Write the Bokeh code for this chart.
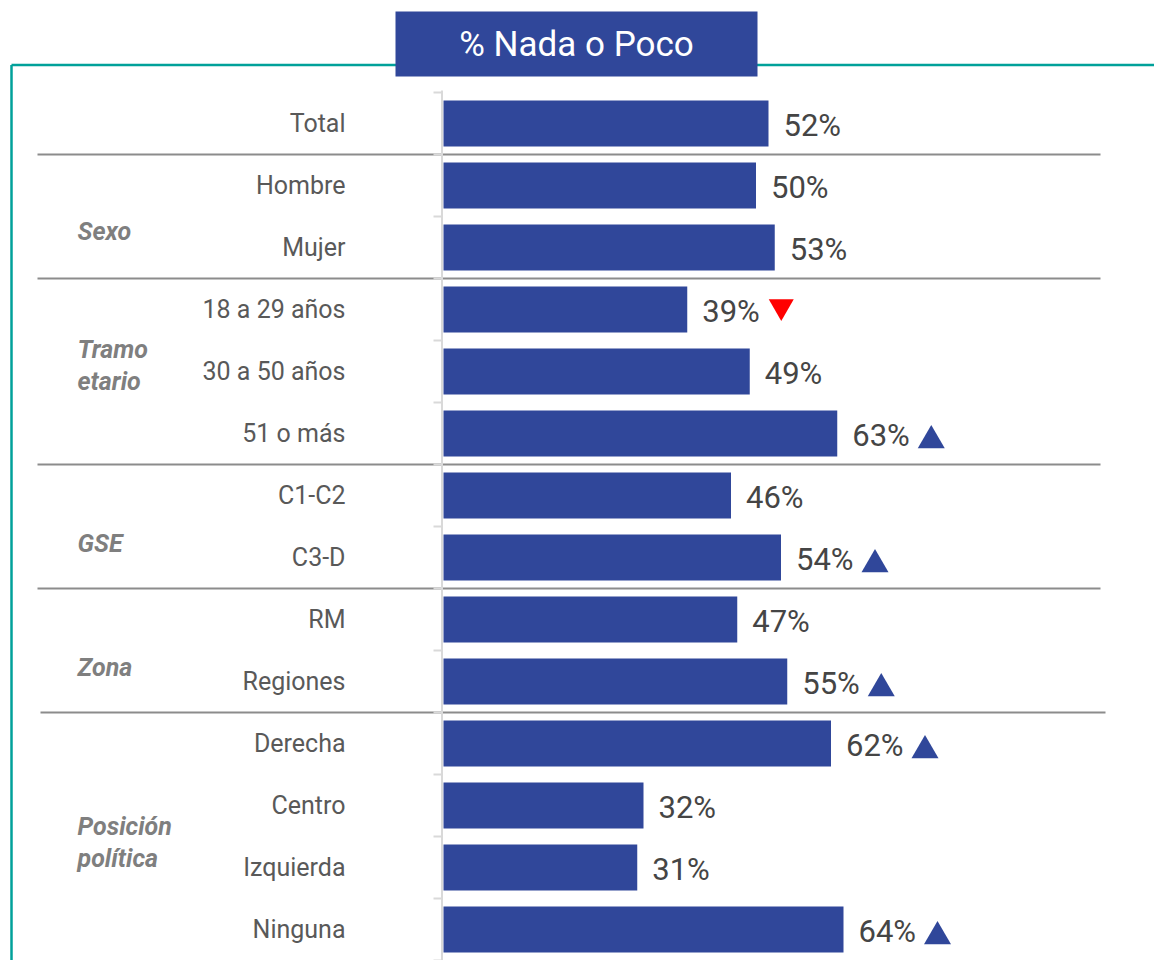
from bokeh.plotting import figure
from bokeh.models import Range1d, ColumnDataSource
from bokeh.core.properties import value
from bokeh.embed import file_html
from bokeh.resources import INLINE

# ---------------- data ----------------
categories = ["Total", "Hombre", "Mujer", "18 a 29 años", "30 a 50 años", "51 o más",
              "C1-C2", "C3-D", "RM", "Regiones", "Derecha", "Centro", "Izquierda", "Ninguna"]
values = [52, 50, 53, 39, 49, 63, 46, 54, 47, 55, 62, 32, 31, 64]
# significance marks: "up", "down" or ""
signif = ["", "", "", "down", "", "up", "", "up", "", "up", "up", "", "", "up"]
groups = ["Sexo", "Tramo\netario", "GSE", "Zona", "Posición\npolítica"]
group_rows = [(1, 2), (3, 5), (6, 7), (8, 9), (10, 13)]
title_text = "% Nada o Poco"

# ---------------- layout constants ----------------
W, H = 1154, 960
PX_PER_UNIT_X = 6.25          # pixels per percentage point
ZERO_PX = 443                 # reference x of bar base
ROW_PX = 62                   # row pitch
ROW0_PX = 123                 # reference y of first row centre
OFF = 0                       # observed page offset


def X(px):
    return (px - ZERO_PX) / PX_PER_UNIT_X


def Y(py):
    return (py - ROW0_PX) / ROW_PX


BAR = "#30479A"
TEAL = "#00A19A"
FONT = value("Roboto")

p = figure(width=W, height=H, output_backend="svg", toolbar_location=None,
           x_range=Range1d(X(OFF), X(OFF + W)),
           y_range=Range1d(Y(OFF + H), Y(OFF)),
           min_border=0, x_axis_location=None, y_axis_location=None)
p.grid.visible = False
p.outline_line_color = None
p.background_fill_color = "white"
p.border_fill_color = "white"

n = len(categories)
rows = list(range(n))

# teal frame
p.segment(x0=[X(11), X(11)], y0=[Y(64.5), Y(64.5)], x1=[X(1200), X(11)], y1=[Y(64.5), Y(1000)],
          line_color=TEAL, line_width=2.5)

# title box
p.quad(left=[X(395)], right=[X(757)], top=[Y(11)], bottom=[Y(76)],
       fill_color=BAR, line_color=None)
p.text(x=[X(576)], y=[Y(44)], text=[title_text], text_font=FONT, text_font_size="35px",
       text_color="white", text_align="center", text_baseline="middle")

# group separators
sep_rows = [g[0] - 0.5 for g in group_rows]
sep_x0 = [X(37)] * (len(sep_rows) - 1) + [X(40)]
sep_x1 = [X(1100)] * (len(sep_rows) - 1) + [X(1105)]
p.segment(x0=sep_x0, x1=sep_x1, y0=sep_rows, y1=sep_rows, line_color="#8C8C8C", line_width=2)

# axis line and ticks
p.segment(x0=[X(441.5)], x1=[X(441.5)], y0=[Y(90)], y1=[-0.5 + n + 0.03],
          line_color="#D9D9D9", line_width=2)
tick_y = [r - 0.5 for r in range(n + 1)]
p.segment(x0=[X(433)] * len(tick_y), x1=[X(441.5)] * len(tick_y), y0=tick_y, y1=tick_y,
          line_color="#D9D9D9", line_width=2)

# bars
src = ColumnDataSource(dict(y=rows, v=values, cat=categories,
                            lab=[f"{v}%" for v in values]))
p.hbar(y="y", left=0, right="v", height=0.74, source=src, fill_color=BAR, line_color=None)

# category labels
p.text(x=X(345), y="y", text="cat", source=src, text_font=FONT, text_font_size="25px",
       text_color="#595959", text_align="right", text_baseline="middle")

# value labels
p.text(x="v", y="y", text="lab", source=src, x_offset=15, y_offset=2, text_font=FONT,
       text_font_size="31px", text_color="#454545", text_align="left", text_baseline="middle")

# significance triangles
tri_shift = 94 / PX_PER_UNIT_X
up_x = [v + tri_shift for v, s in zip(values, signif) if s == "up"]
up_y = [r + 7 / ROW_PX for r, s in zip(rows, signif) if s == "up"]
dn_x = [v + tri_shift for v, s in zip(values, signif) if s == "down"]
dn_y = [r - 3 / ROW_PX for r, s in zip(rows, signif) if s == "down"]
p.scatter(x=up_x, y=up_y, marker="triangle", size=27, fill_color=BAR, line_color=None)
p.scatter(x=dn_x, y=dn_y, marker="inverted_triangle", size=25, fill_color="#FF0000", line_color=None)

# group labels (offsets in px relative to group centre, as in the reference)
group_offsets_px = [15, -6, 17, 17, 6]
gx, gy, gt = [], [], []
for g, (a, b), off in zip(groups, group_rows, group_offsets_px):
    lines = g.split("\n")
    centre = (a + b) / 2 + off / ROW_PX
    for k, line in enumerate(lines):
        gx.append(X(77))
        gy.append(centre + (k - (len(lines) - 1) / 2) * 32 / ROW_PX)
        gt.append(line)
p.text(x=gx, y=gy, text=gt, text_font=FONT, text_font_size="25px", text_font_style="bold italic",
       text_color="#7F7F7F", text_align="left", text_baseline="middle")

open("out.html", "w").write(file_html(p, INLINE))
